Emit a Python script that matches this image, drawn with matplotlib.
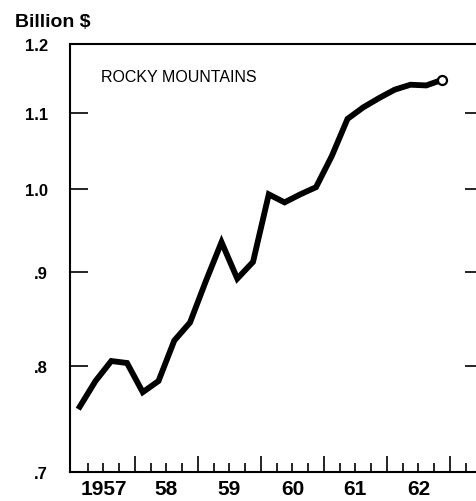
import numpy as np
import matplotlib.pyplot as plt

# quarterly data, 1957 Q1 - 1962 Q4 (billion $)
years = [1957, 1958, 1959, 1960, 1961, 1962]
year_labels = ["1957", "58", "59", "60", "61", "62"]
values = [0.760, 0.785, 0.805, 0.803, 0.774, 0.785, 0.826, 0.845,
          0.890, 0.935, 0.893, 0.912, 0.993, 0.983, 0.993, 1.002,
          1.042, 1.092, 1.108, 1.121, 1.133, 1.140, 1.139, 1.147]
y_ticks = [0.7, 0.8, 0.9, 1.0, 1.1, 1.2]
y_labels = [".7", ".8", ".9", "1.0", "1.1", "1.2"]
region = "ROCKY MOUNTAINS"

plt.rcParams['font.family'] = ['Liberation Sans', 'DejaVu Sans']

# point at middle of each quarter
t = years[0] + (np.arange(len(values)) + 0.5) / 4

fig = plt.figure(figsize=(4.77, 5.02), dpi=100)
ax = fig.add_axes([70 / 477, 29 / 502, 407 / 477, 428 / 502])

ax.plot(t, values, color="black", lw=4.2, solid_joinstyle="miter")
ax.plot(t[-1], values[-1], "o", ms=6.5, mfc="white", mec="black", mew=1.6)

ax.set_yscale("log")
ax.set_ylim(0.7, 1.2)
ax.set_xlim(1956.97, 1963.43)

ax.set_yticks(y_ticks)
ax.set_yticklabels(y_labels, fontsize=12, fontweight="bold")
ax.yaxis.set_minor_locator(plt.NullLocator())
ax.tick_params(axis="y", direction="in", length=13, width=1.2, pad=16)

# year boundaries = long ticks, quarters = short ticks, labels at mid-year
bounds = np.arange(years[0] + 1, years[-1] + 2)
quarters = [y + q / 4 for y in range(years[0], years[-1] + 2) for q in (1, 2, 3)]
quarters = [q for q in quarters if q < 1963.43]
qlabels = []
for q in quarters:
    lab = ""
    for y, yl in zip(years, year_labels):
        if abs(q - (y + 0.5)) < 1e-6:
            lab = yl
    qlabels.append(lab)
ax.set_xticks(bounds)
ax.set_xticklabels([""] * len(bounds))
ax.set_xticks(quarters, minor=True)
ax.set_xticklabels(qlabels, minor=True, fontsize=15, fontweight="bold")
ax.tick_params(axis="x", which="major", direction="in", length=11.5, width=1.2)
ax.tick_params(axis="x", which="minor", direction="in", length=6.5, width=1.2, pad=5)

for s in ["left", "bottom", "top"]:
    ax.spines[s].set_linewidth(1.5)
ax.spines["right"].set_visible(False)

# short ticks on right side
ax2 = ax.twinx()
ax2.set_yscale("log")
ax2.set_ylim(0.7, 1.2)
ax2.set_yticks(y_ticks[1:-1])
ax2.set_yticklabels([])
ax2.yaxis.set_minor_locator(plt.NullLocator())
ax2.tick_params(axis="y", direction="in", length=8.5, width=1.2)
for s in ax2.spines.values():
    s.set_visible(False)

ax.text(0.075, 0.925, region, transform=ax.transAxes, fontsize=11.5,
        va="center", ha="left")
fig.text(15 / 477, 1 - 27 / 502, "Billion $", fontsize=14, fontweight="bold",
         ha="left", va="baseline")

fig.savefig("out.png", dpi=100)
